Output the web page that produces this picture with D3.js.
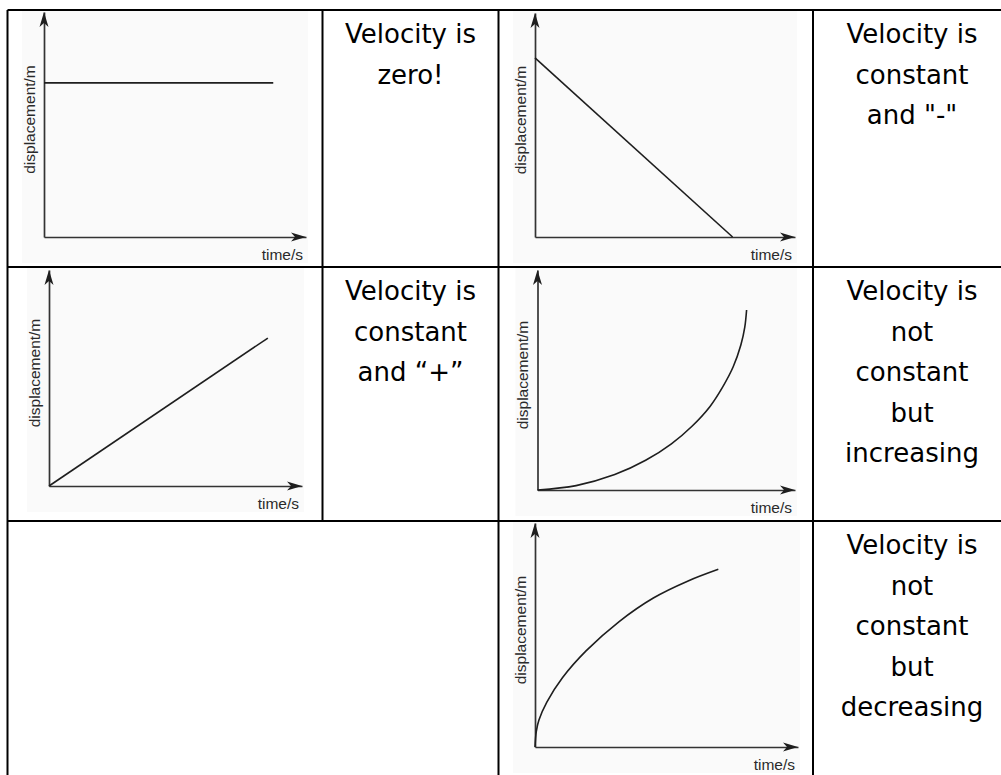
<!DOCTYPE html>
<html lang="en">
<head>
    <meta charset="UTF-8">
    <title>Displacement-time graphs</title>
    <script src="https://cdn.jsdelivr.net/npm/d3@7/dist/d3.min.js"></script>
    <style>
        body { margin: 0; background: #fff; }
        .grid line { stroke: #000; stroke-width: 2px; }
        .panel-bg { fill: #fafafa; }
        .axis path.domain { stroke: #333; stroke-width: 1.7px; }
        .arrow { fill: #1e1e1e; }
        .curve { fill: none; stroke: #1e1e1e; stroke-width: 1.6px; }
        .axis-label { font-family: "Liberation Sans", Arial, sans-serif; font-size: 15.5px; fill: #2a2a2a; }
        .caption { font-family: "DejaVu Sans", sans-serif; font-size: 26px; fill: #000; }
    </style>
</head>
<body>
    <svg width=1001 height=775></svg>
    <script>
        // values, in axis units (0..10 on both axes)
        var xLabel = 'time/s',
            yLabel = 'displacement/m';

        var zeroVelocity = [[0, 6.85], [8.75, 6.85]];
        var negativeVelocity = [[0, 8.0], [7.6, 0]];
        var positiveVelocity = [[0, 0], [8.65, 6.85]];
        var increasingVelocity = [[0, 0], [1.5, 0.2], [3, 0.7], [4.2, 1.35], [5.2, 2.1], [6, 2.9], [6.7, 3.8],
                                  [7.2, 4.7], [7.6, 5.6], [7.9, 6.6], [8.05, 7.4], [8.12, 8.18]];
        var decreasingVelocity = [[0, 0], [0.05, 0.7], [0.15, 1.2], [0.45, 2.0], [1.05, 3.1], [1.95, 4.3],
                                  [3.2, 5.6], [4.5, 6.65], [5.8, 7.4], [6.97, 7.93]];

        var captionZero = ['Velocity is', 'zero!'];
        var captionNegative = ['Velocity is', 'constant', 'and "-"'];
        var captionPositive = ['Velocity is', 'constant', 'and \u201C+\u201D'];
        var captionIncreasing = ['Velocity is', 'not', 'constant', 'but', 'increasing'];
        var captionDecreasing = ['Velocity is', 'not', 'constant', 'but', 'decreasing'];

        var svg = d3.select('svg');

        // table layout
        var colX = [7.5, 322.5, 498.5, 813],
            rowY = [10, 267, 521],
            bottom = 775,
            right = 1001;

        // panel placement: origin and arrow tips in page pixels
        var smooth = d3.curveCatmullRom.alpha(0.5);
        var panels = [
            { data: zeroVelocity, ox: 44, oy: 237, xEnd: 306, yEnd: 12, curve: d3.curveLinear },
            { data: negativeVelocity, ox: 535, oy: 237, xEnd: 795, yEnd: 13, curve: d3.curveLinear },
            { data: positiveVelocity, ox: 49, oy: 486, xEnd: 302, yEnd: 270, curve: d3.curveLinear },
            { data: increasingVelocity, ox: 537.5, oy: 490, xEnd: 795, yEnd: 270, curve: smooth },
            { data: decreasingVelocity, ox: 535, oy: 747, xEnd: 798, yEnd: 523, curve: smooth }
        ];

        var captions = [
            { lines: captionZero, cx: (colX[1] + colX[2]) / 2, top: rowY[0] },
            { lines: captionNegative, cx: 912, top: rowY[0] },
            { lines: captionPositive, cx: (colX[1] + colX[2]) / 2, top: rowY[1] },
            { lines: captionIncreasing, cx: 912, top: rowY[1] },
            { lines: captionDecreasing, cx: 912, top: rowY[2] }
        ];

        // chart panels
        panels.forEach(function(p) {
            var xScale = d3.scaleLinear().domain([0, 10]).range([p.ox, p.xEnd]),
                yScale = d3.scaleLinear().domain([0, 10]).range([p.oy, p.yEnd]),
                g = svg.append('g').classed('panel', true);

            g.append('rect')
                .classed('panel-bg', true)
                .attr('x', p.ox - 22)
                .attr('y', p.yEnd - 3)
                .attr('width', p.xEnd - p.ox + 24)
                .attr('height', p.oy - p.yEnd + 29);

            g.append('g')
                .classed('axis', true)
                .attr('transform', 'translate(0,' + p.oy + ')')
                .call(d3.axisBottom(xScale).tickValues([]).tickSizeOuter(0));

            g.append('g')
                .classed('axis', true)
                .attr('transform', 'translate(' + p.ox + ',0)')
                .call(d3.axisLeft(yScale).tickValues([]).tickSizeOuter(0));

            // arrow heads at the end of each axis
            var xt = xScale(10), yt = yScale(10);
            g.append('path')
                .classed('arrow', true)
                .attr('d', 'M' + xt + ',' + p.oy + 'L' + (xt - 15) + ',' + (p.oy - 4.5) +
                    'L' + (xt - 11) + ',' + p.oy + 'L' + (xt - 15) + ',' + (p.oy + 4.5) + 'Z');
            g.append('path')
                .classed('arrow', true)
                .attr('d', 'M' + p.ox + ',' + yt + 'L' + (p.ox - 4.5) + ',' + (yt + 15) +
                    'L' + p.ox + ',' + (yt + 11) + 'L' + (p.ox + 4.5) + ',' + (yt + 15) + 'Z');

            var lineG = d3.line()
                .x(function(d) { return xScale(d[0]); })
                .y(function(d) { return yScale(d[1]); })
                .curve(p.curve);

            g.append('path')
                .classed('curve', true)
                .datum(p.data)
                .attr('d', lineG);

            g.append('text')
                .classed('axis-label', true)
                .attr('text-anchor', 'end')
                .attr('x', xt - 3)
                .attr('y', p.oy + 23)
                .text(xLabel);

            var ymid = (p.oy + yt) / 2 - 5;
            g.append('text')
                .classed('axis-label', true)
                .attr('text-anchor', 'middle')
                .attr('dominant-baseline', 'central')
                .attr('transform', 'translate(' + (p.ox - 15) + ',' + ymid + ') rotate(-90)')
                .text(yLabel);
        });

        // table rules
        var rules = [
            [colX[0], rowY[0], right, rowY[0]],
            [colX[0], rowY[1], right, rowY[1]],
            [colX[0], rowY[2], right, rowY[2]],
            [colX[0], rowY[0], colX[0], bottom],
            [colX[1], rowY[0], colX[1], rowY[2]],
            [colX[2], rowY[0], colX[2], bottom],
            [colX[3], rowY[0], colX[3], bottom]
        ];

        svg.append('g')
            .classed('grid', true)
            .selectAll('line')
            .data(rules)
            .enter()
            .append('line')
            .attr('x1', function(d) { return d[0]; })
            .attr('y1', function(d) { return d[1]; })
            .attr('x2', function(d) { return d[2]; })
            .attr('y2', function(d) { return d[3]; });

        // captions
        captions.forEach(function(c) {
            svg.append('text')
                .classed('caption', true)
                .attr('text-anchor', 'middle')
                .selectAll('tspan')
                .data(c.lines)
                .enter()
                .append('tspan')
                .attr('x', c.cx)
                .attr('y', function(d, i) { return c.top + 33 + i * 40.5; })
                .text(function(d) { return d; });
        });
    </script>
</body>
</html>
